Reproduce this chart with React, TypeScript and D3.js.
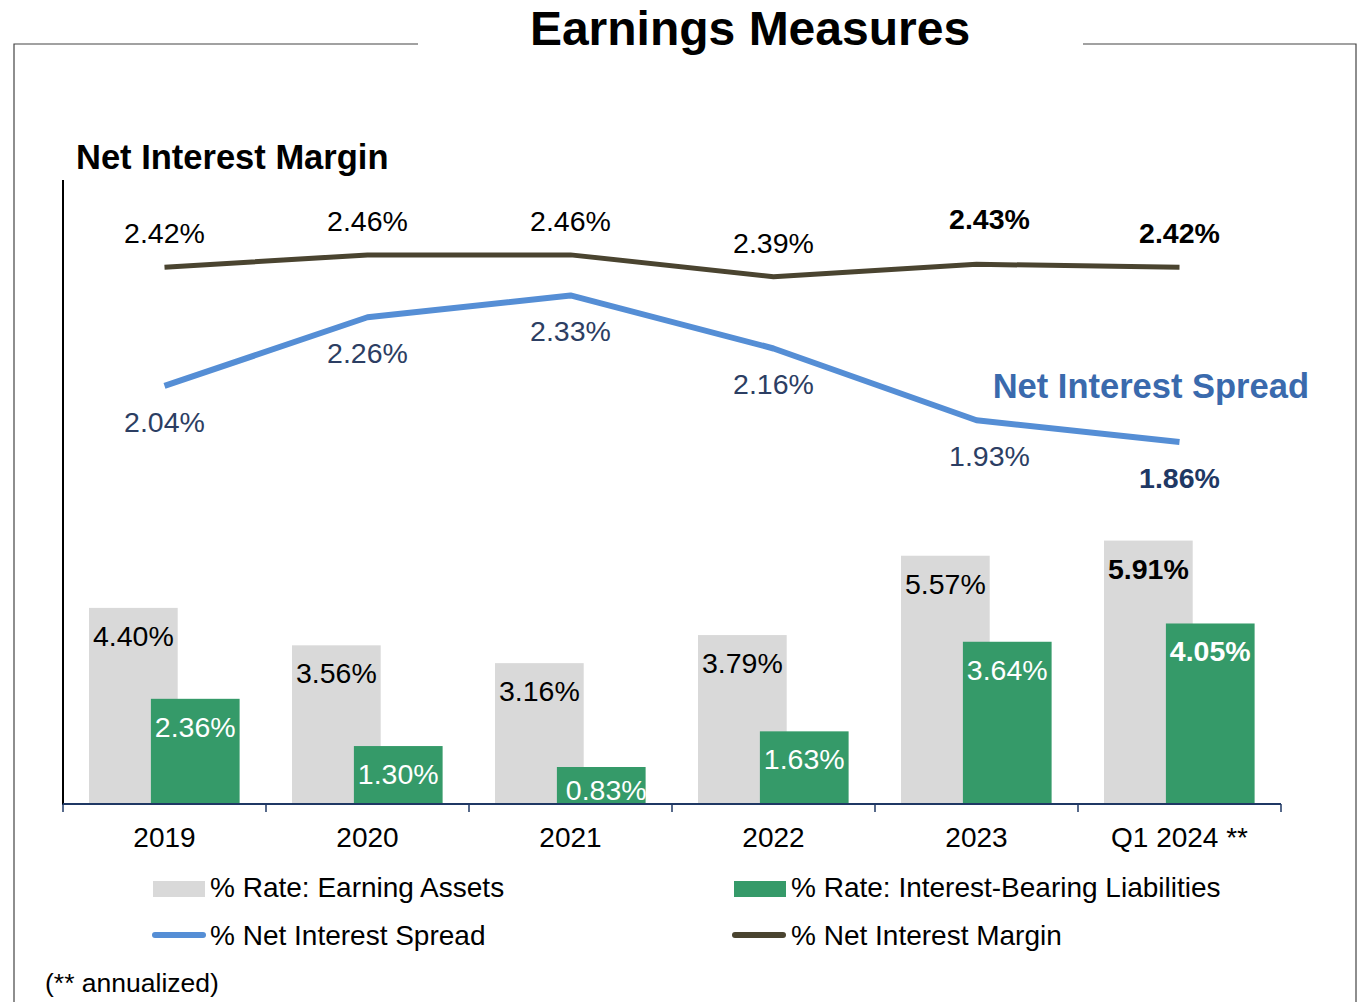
import React from "react";
import * as d3 from "d3";

const categories = ["2019", "2020", "2021", "2022", "2023", "Q1 2024 **"];
const earningAssets = [4.4, 3.56, 3.16, 3.79, 5.57, 5.91];
const liabilities = [2.36, 1.3, 0.83, 1.63, 3.64, 4.05];
const netSpread = [2.04, 2.26, 2.33, 2.16, 1.93, 1.86];
const netMargin = [2.42, 2.46, 2.46, 2.39, 2.43, 2.42];

const FONT = "'Liberation Sans', Arial, sans-serif";
const GRAY = "#d9d9d9";
const GREEN = "#359a69";
const BLUE = "#558ed5";
const OLIVE = "#4a4430";
const NAVY = "#1f3864";

const App = () => {
  // plot area
  const left = 63;
  const right = 1281;
  const top = 180;
  const bottom = 804;

  const x = d3.scaleBand().domain(categories).range([left, right]);
  const yBar = d3.scaleLinear().domain([0, 14]).range([bottom, top]);
  const yLine = d3.scaleLinear().domain([0.7, 2.7]).range([bottom, top]);

  const bw = x.bandwidth();
  const barW = bw * 0.437;
  const grayOff = bw * 0.128;
  const greenOff = bw * 0.433;
  const cx = (c) => x(c) + bw / 2;

  const fmt = (v) => v.toFixed(2) + "%";
  const lastBold = (i) => i >= categories.length - 1;

  const line = d3
    .line<number>()
    .x((_, i) => cx(categories[i]))
    .y((d) => yLine(d));

  const ticks = [...categories.map((c) => x(c)), right];

  return (
    <svg
      width={1360}
      height={1002}
      style={{ display: "block", position: "absolute", left: 0, top: 0 }}
    >
      <g fontFamily={FONT}>
        {/* frame */}
        <path d="M14,1002 V44 H418" fill="none" stroke="#444" strokeWidth={1.2} />
        <path d="M1083,44 H1356 V1002" fill="none" stroke="#444" strokeWidth={1.2} />
        <text x={750} y={45} textAnchor="middle" fontSize={48} fontWeight="bold" fill="#000">
          Earnings Measures
        </text>
        <text x={76} y={169} fontSize={34.5} fontWeight="bold" fill="#000">
          Net Interest Margin
        </text>

        {/* bars */}
        {categories.map((c, i) => (
          <g key={c}>
            <rect x={x(c) + grayOff} y={yBar(earningAssets[i])} width={barW} height={bottom - yBar(earningAssets[i])} fill={GRAY} />
            <rect x={x(c) + greenOff} y={yBar(liabilities[i])} width={barW} height={bottom - yBar(liabilities[i])} fill={GREEN} />
            <text
              x={x(c) + grayOff + barW / 2}
              y={yBar(earningAssets[i]) + 38}
              textAnchor="middle"
              fontSize={28.5}
              fontWeight={lastBold(i) ? "bold" : "normal"}
              fill="#000"
            >
              {fmt(earningAssets[i])}
            </text>
            <text
              x={x(c) + greenOff + barW / 2 + (liabilities[i] < 1 ? 5 : 0)}
              y={yBar(liabilities[i]) + (liabilities[i] < 1 ? 33 : 38)}
              textAnchor="middle"
              fontSize={28.5}
              fontWeight={lastBold(i) ? "bold" : "normal"}
              fill="#fff"
            >
              {fmt(liabilities[i])}
            </text>
          </g>
        ))}

        {/* axes */}
        <line x1={left} x2={left} y1={top} y2={bottom + 1} stroke="#000" strokeWidth={2} />
        <line x1={left} x2={right} y1={bottom} y2={bottom} stroke={NAVY} strokeWidth={2} />
        {ticks.map((t, i) => (
          <line key={i} x1={t} x2={t} y1={bottom} y2={bottom + 8} stroke={NAVY} strokeWidth={1.5} />
        ))}
        {categories.map((c) => (
          <text key={c} x={cx(c)} y={847} textAnchor="middle" fontSize={28} fill="#000">
            {c}
          </text>
        ))}

        {/* lines */}
        <path d={line(netMargin)} fill="none" stroke={OLIVE} strokeWidth={5} strokeLinejoin="round" />
        <path d={line(netSpread)} fill="none" stroke={BLUE} strokeWidth={6} strokeLinejoin="round" />
        {categories.map((c, i) => (
          <g key={c}>
            <text
              x={cx(c) + (i === 4 ? 13 : 0)}
              y={yLine(netMargin[i]) - (i === 4 ? 35 : 24)}
              textAnchor="middle"
              fontSize={28.5}
              fontWeight={i >= 4 ? "bold" : "normal"}
              fill="#000"
            >
              {fmt(netMargin[i])}
            </text>
            <text
              x={cx(c) + (i === 4 ? 13 : 0)}
              y={yLine(netSpread[i]) + 46}
              textAnchor="middle"
              fontSize={28.5}
              fontWeight={lastBold(i) ? "bold" : "normal"}
              fill={lastBold(i) ? NAVY : "#2c3e63"}
            >
              {fmt(netSpread[i])}
            </text>
          </g>
        ))}
        <text x={1309} y={398} textAnchor="end" fontSize={34.5} fontWeight="bold" fill="#3a6aad">
          Net Interest Spread
        </text>

        {/* legend */}
        <rect x={153} y={881} width={52} height={16} fill={GRAY} />
        <text x={210} y={897} fontSize={28} fill="#000">% Rate: Earning Assets</text>
        <rect x={734} y={881} width={52} height={16} fill={GREEN} />
        <text x={791} y={897} fontSize={28} fill="#000">% Rate: Interest-Bearing Liabilities</text>
        <line x1={155} x2={203} y1={935} y2={935} stroke={BLUE} strokeWidth={6} strokeLinecap="round" />
        <text x={210} y={945} fontSize={28} fill="#000">% Net Interest Spread</text>
        <line x1={735} x2={783} y1={935} y2={935} stroke={OLIVE} strokeWidth={6} strokeLinecap="round" />
        <text x={791} y={945} fontSize={28} fill="#000">% Net Interest Margin</text>

        <text x={45} y={992} fontSize={26.5} fill="#000">(** annualized)</text>
      </g>
    </svg>
  );
};

export default App;
